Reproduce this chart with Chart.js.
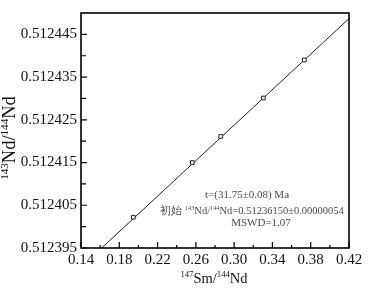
<!DOCTYPE html>
<html>
<head>
<meta charset="utf-8">
<script src="https://cdn.jsdelivr.net/npm/chart.js@4"></script>
<style>
  html, body { margin: 0; padding: 0; background: #fff; }
  #wrap { width: 371px; height: 295px; }
</style>
</head>
<body>
<div id="wrap"><canvas id="chart-1" width="371" height="295"></canvas></div>
<script>
// sample points
const smNd = [0.1947, 0.2563, 0.286, 0.3305, 0.3733];
const ndNd = [0.5124022, 0.512415, 0.5124211, 0.5124301, 0.512439];

// isochron line ends
const lineX = [0.1616, 0.42];
const lineY = [0.512395, 0.5124487];

// tick labels
const xTicks = [0.14, 0.18, 0.22, 0.26, 0.30, 0.34, 0.38, 0.42];
const xMinor = [0.16, 0.20, 0.24, 0.28, 0.32, 0.36, 0.40];
const yTicks = [0.512395, 0.512405, 0.512415, 0.512425, 0.512435, 0.512445];
const yMinor = [0.5124, 0.51241, 0.51242, 0.51243, 0.51244];

const notes = ["t=(31.75\u00b10.08) Ma", "MSWD=1.07"];

const serif = "'Liberation Serif', 'DejaVu Serif', serif";

// draw text made of [text, isSuperscript] pieces
function drawParts(ctx, parts, x, y, size, align) {
    let w = 0;
    parts.forEach(p => {
        ctx.font = (p[1] ? size * 0.6 : size) + "px " + serif;
        w += ctx.measureText(p[0]).width;
    });
    let cx = align === "center" ? x - w / 2 : x;
    ctx.textBaseline = "alphabetic";
    ctx.textAlign = "left";
    parts.forEach(p => {
        ctx.font = (p[1] ? size * 0.6 : size) + "px " + serif;
        ctx.fillText(p[0], cx, p[1] ? y - size * 0.38 : y);
        cx += ctx.measureText(p[0]).width;
    });
}

const boxPlugin = {
    id: "box",
    afterDraw(chart) {
        const ctx = chart.ctx;
        const a = chart.chartArea;
        const xs = chart.scales.x;
        const ys = chart.scales.y;
        ctx.save();
        ctx.strokeStyle = "#000";
        ctx.lineWidth = 1.6;
        ctx.strokeRect(a.left, a.top, a.right - a.left, a.bottom - a.top);

        // inward ticks
        ctx.lineWidth = 1.2;
        ctx.beginPath();
        xTicks.forEach(v => {
            const px = xs.getPixelForValue(v);
            ctx.moveTo(px, a.bottom); ctx.lineTo(px, a.bottom - 6);
        });
        xMinor.forEach(v => {
            const px = xs.getPixelForValue(v);
            ctx.moveTo(px, a.bottom); ctx.lineTo(px, a.bottom - 3);
        });
        yTicks.forEach(v => {
            const py = ys.getPixelForValue(v);
            ctx.moveTo(a.left, py); ctx.lineTo(a.left + 6, py);
        });
        yMinor.forEach(v => {
            const py = ys.getPixelForValue(v);
            ctx.moveTo(a.left, py); ctx.lineTo(a.left + 5, py);
        });
        ctx.stroke();

        // axis titles
        ctx.fillStyle = "#111";
        drawParts(ctx, [["147", true], ["Sm/", false], ["144", true], ["Nd", false]], 214, 283, 14.5, "center");
        ctx.save();
        ctx.translate(15, 138);
        ctx.rotate(-Math.PI / 2);
        drawParts(ctx, [["143", true], ["Nd/", false], ["144", true], ["Nd", false]], 0, 0, 18.5, "center");
        ctx.restore();

        // annotation
        ctx.fillStyle = "#4a4a4a";
        drawParts(ctx, [[notes[0], false]], 247, 198, 11, "center");
        drawParts(ctx, [["\u521d\u59cb ", false], ["143", true], ["Nd/", false], ["144", true], ["Nd=0.51236150\u00b10.00000054", false]], 252, 214, 10.5, "center");
        drawParts(ctx, [[notes[1], false]], 261, 226, 11, "center");
        ctx.restore();
    }
};

const points = smNd.map((v, i) => ({ x: v, y: ndNd[i] }));
const line = lineX.map((v, i) => ({ x: v, y: lineY[i] }));

new Chart(document.getElementById("chart-1"), {
    type: "scatter",
    data: {
        datasets: [{
            data: points,
            pointStyle: "rect",
            pointRadius: 2.6,
            pointBackgroundColor: "#fff",
            pointBorderColor: "#222",
            pointBorderWidth: 1
        }, {
            type: "line",
            data: line,
            borderColor: "#222",
            borderWidth: 1,
            pointRadius: 0,
            fill: false
        }]
    },
    options: {
        responsive: false,
        animation: false,
        layout: { padding: { top: 12, right: 22, left: 0, bottom: 0 } },
        plugins: { legend: { display: false }, tooltip: { enabled: false } },
        scales: {
            x: {
                type: "linear",
                min: 0.14,
                max: 0.42,
                afterBuildTicks: s => { s.ticks = xTicks.map(v => ({ value: v })); },
                afterFit: s => { s.height = 47; },
                grid: { display: false, drawTicks: false, tickLength: 0 },
                border: { display: false },
                ticks: {
                    color: "#111",
                    font: { family: serif, size: 15 },
                    padding: 3,
                    maxRotation: 0,
                    callback: v => v.toFixed(2)
                }
            },
            y: {
                type: "linear",
                min: 0.512395,
                max: 0.51245,
                afterBuildTicks: s => { s.ticks = yTicks.map(v => ({ value: v })); },
                afterFit: s => { s.width = 81; },
                grid: { display: false, drawTicks: false, tickLength: 0 },
                border: { display: false },
                ticks: {
                    color: "#111",
                    font: { family: serif, size: 15 },
                    padding: 4,
                    callback: v => v.toFixed(6)
                }
            }
        }
    },
    plugins: [boxPlugin]
});
</script>
</body>
</html>
